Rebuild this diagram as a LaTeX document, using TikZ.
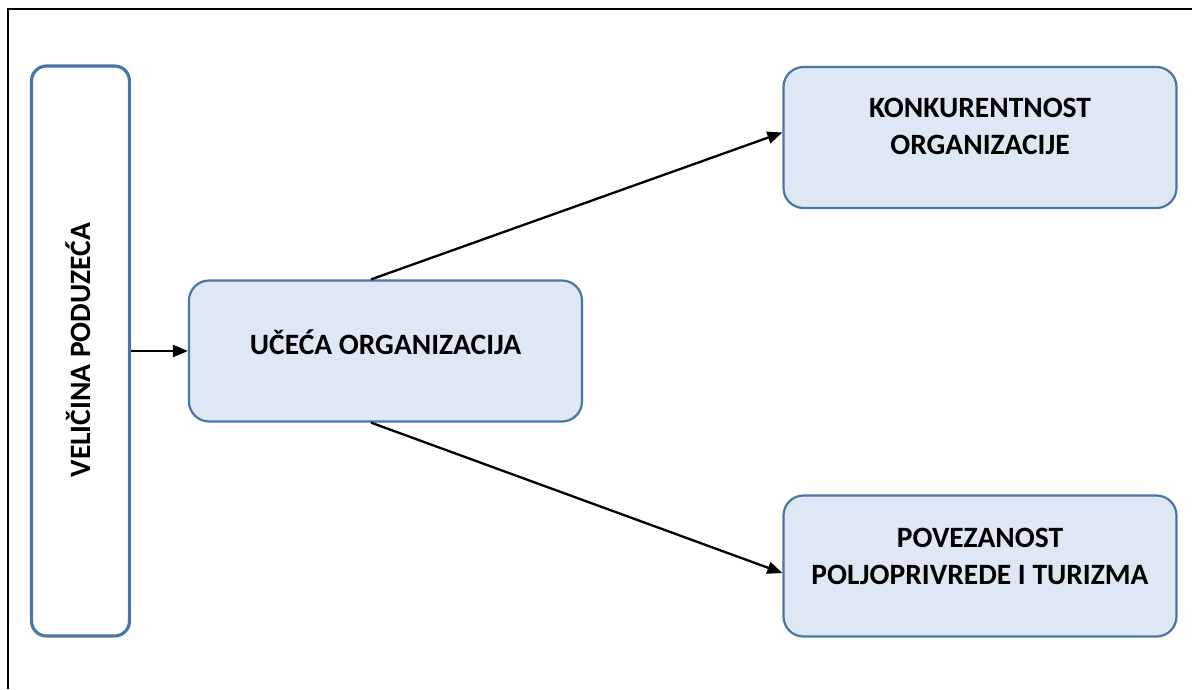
\documentclass[tikz,border=0pt]{standalone}
\usepackage{fontspec}
\setmainfont{Carlito}
\usepackage{tikz}
\usetikzlibrary{arrows.meta,positioning,calc}

\definecolor{boxline}{HTML}{4A76A4}
\definecolor{boxfill}{HTML}{DEE8F5}

\tikzset{
  boxnode/.style={draw=boxline,line width=2.2pt,fill=boxfill,rounded corners=20pt,
    minimum width=393pt,minimum height=141pt,inner sep=0pt},
  sidebox/.style={draw=boxline,line width=3.2pt,fill=white,rounded corners=15pt,
    minimum width=98pt,minimum height=570pt,inner sep=0pt},
  boxtext/.style={font=\bfseries\fontsize{29.5}{37}\selectfont,align=center,inner sep=0pt},
  link/.style={line width=2.3pt,-{Triangle[length=15pt,width=12pt]}}
}

\begin{document}
\begin{tikzpicture}[x=1pt,y=-1pt]
\useasboundingbox (0,0) rectangle (1192,689);

% frame (only top and left visible)
\draw[line width=2.4pt] (1192,9) -- (8,9) -- (8,689);

\coordinate (pside) at (80.5,351);
\coordinate (pmid) at (385.5,351);
\coordinate (ptop) at (980,137.5);
\coordinate (pbot) at (980,566);

\node (velicina) [sidebox] at (pside) {};
\node (ucenje) [boxnode] at (pmid) {};
\node (konk) [boxnode] at (ptop) {};
\node (povez) [boxnode] at (pbot) {};

\node [boxtext,rotate=90] at (78,350) {VELIČINA PODUZEĆA};
\node [boxtext] at ($(ucenje.center)+(0,-9)$) {UČEĆA ORGANIZACIJA};
\node [boxtext] at ($(konk.center)+(0,-11)$) {KONKURENTNOST\\ORGANIZACIJE};
\node [boxtext] at ($(povez.center)+(0,-10)$) {POVEZANOST\\POLJOPRIVREDE I TURIZMA};

\draw [link] (velicina.east) -- (ucenje.west);
\draw [link] ($(ucenje.north)+(-14.5,0)$) -- ($(konk.west)+(0,-5)$);
\draw [link] ($(ucenje.south)+(-14.5,0)$) -- ($(povez.west)+(0,7)$);

\end{tikzpicture}
\end{document}
